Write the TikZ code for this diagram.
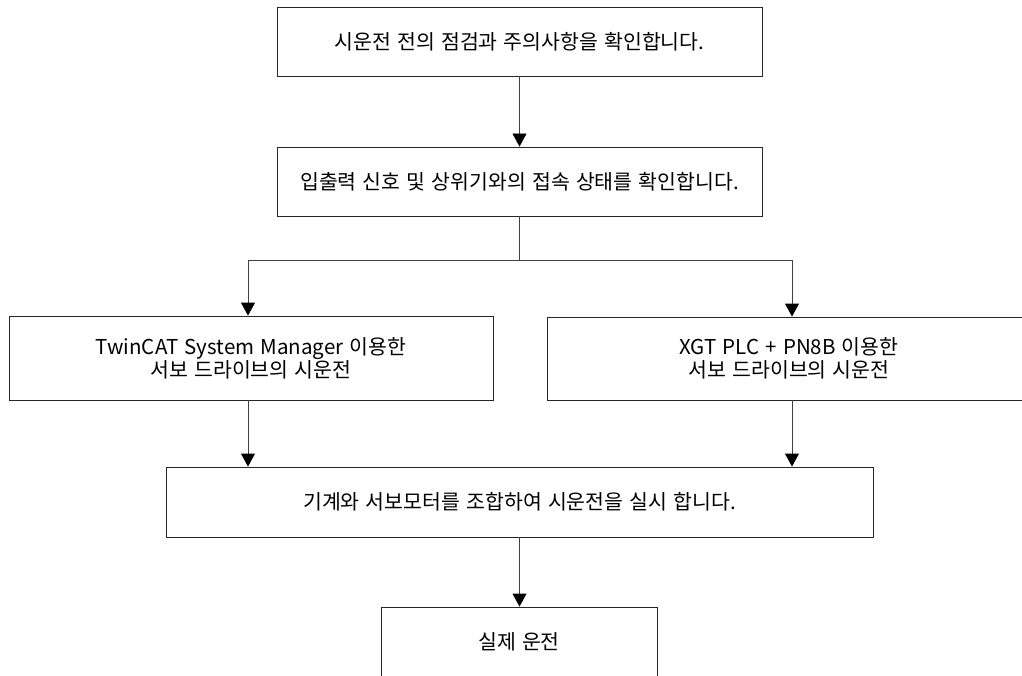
\documentclass[tikz,border=0pt]{standalone}
\usepackage{fontspec}
\setmainfont{Noto Sans CJK KR}
\usetikzlibrary{arrows.meta}
\newcommand{\boxfont}{\fontsize{20.5}{23}\selectfont\spaceskip=0.3em plus 0.1em minus 0.05em\relax}
\tikzset{
  box/.style={draw=black!85, line width=0.9pt, rectangle, inner sep=0pt, align=center, font=\boxfont},
  link/.style={draw=black!75, line width=0.9pt},
  arr/.style={link, -{Triangle[width=14pt,length=13pt,color=black]}}
}
\begin{document}
\begin{tikzpicture}[x=1pt,y=-1pt]
\clip (0,0) rectangle (1022,676);
\fill[white] (0,0) rectangle (1022,676);
\node[box, minimum width=485pt, minimum height=69pt] (b1) at (519.5,41.5) {시운전 전의 점검과 주의사항을 확인합니다.};
\node[box, minimum width=485pt, minimum height=69pt] (b2) at (519.5,181.5) {입출력 신호 및 상위기와의 접속 상태를 확인합니다.};
\node[box, minimum width=484pt, minimum height=84pt] (l) at (251,358) {TwinCAT System Manager 이용한\\서보 드라이브의 시운전};
\node[box, minimum width=484pt, minimum height=83pt] (r) at (789,358.5) {XGT PLC + PN8B 이용한\\서보 드라이브의 시운전};
\node[box, minimum width=707pt, minimum height=70pt] (m) at (519.5,502) {기계와 서보모터를 조합하여 시운전을 실시 합니다.};
\node[box, minimum width=276pt, minimum height=70pt] (f) at (519,642) {실제 운전};
\coordinate (j) at (519.5,260);
\coordinate (jl) at (248,260);
\coordinate (jr) at (792,260);
\draw[arr] (b1.south) -- (b2.north);
\draw[link] (b2.south) -- (j);
\draw[link] (jl) -- (jr);
\draw[arr] (jl) -- (jl |- l.north);
\draw[arr] (jr) -- (jr |- r.north);
\draw[arr] (jl |- l.south) -- (jl |- m.north);
\draw[arr] (jr |- r.south) -- (jr |- m.north);
\draw[arr] (m.south) -- (m.south |- f.north);
\end{tikzpicture}
\end{document}
